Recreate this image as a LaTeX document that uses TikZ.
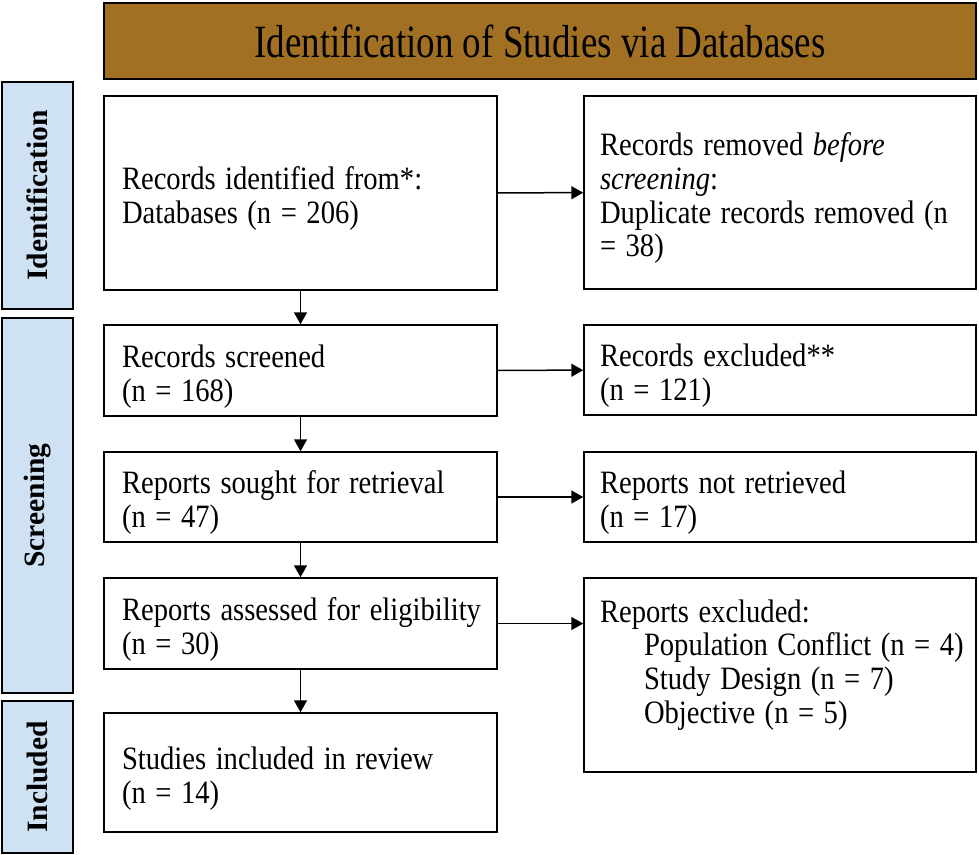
\documentclass[tikz,border=0pt]{standalone}
\usepackage{fontspec}
\usepackage{graphicx}
\setmainfont{Liberation Serif}
\usetikzlibrary{arrows.meta,positioning}
\definecolor{headbrown}{RGB}{161,112,35}
\definecolor{phaseblue}{RGB}{207,226,243}
% text of the boxes, a little taller than wide, sitting a bit low
\newcommand{\tallrows}[1]{\raisebox{0pt}[\dimexpr\height+14pt\relax]{\scalebox{1}[1.14]{\begin{tabular}[c]{@{}l@{}}#1\end{tabular}}}}
\begin{document}
\begin{tikzpicture}[x=1pt, y=-1pt, line width=1.5pt,
  every node/.style={font=\fontsize{28.6}{29.6}\selectfont},
  box/.style={draw, align=left, text width=357pt, inner xsep=18pt, inner ysep=0pt},
  rbox/.style={draw, align=left, text width=360pt, inner xsep=16pt, inner ysep=0pt},
  phase/.style={draw, fill=phaseblue, rotate=90, minimum height=71pt, inner sep=0pt,
    font=\fontsize{29.5}{34}\selectfont\bfseries},
  >={Triangle[length=12pt,width=13pt]}]
  \useasboundingbox (0,0) rectangle (979,854);

  % header
  \node[draw, fill=headbrown, minimum width=872pt, minimum height=76pt, inner sep=0pt,
    font=\fontsize{37}{40}\selectfont] (head) at (540,41)
    {\scalebox{1}[1.25]{Identification of Studies via Databases}};

  % phases
  \node[phase, minimum width=227pt] (ident) at (37.5,195.5) {Identification};
  \node[phase, minimum width=375pt] (screen) at (37.5,505.5) {Screening};
  \node[phase, minimum width=152pt] (incl) at (37.5,777) {Included};

  % left column
  \node[box, minimum height=194pt] (found) at (300.5,193) {\tallrows{Records identified from*:\\Databases (n = 206)}};
  \node[box, minimum height=91pt] (screened) at (300.5,370.5) {\tallrows{Records screened\\(n = 168)}};
  \node[box, minimum height=90pt] (sought) at (300.5,497) {\tallrows{Reports sought for retrieval\\(n = 47)}};
  \node[box, minimum height=91pt] (assessed) at (300.5,623.5) {\tallrows{Reports assessed for eligibility\\(n = 30)}};
  \node[box, minimum height=119pt] (included) at (300.5,772.5) {\tallrows{Studies included in review\\(n = 14)}};

  % right column
  \node[rbox, minimum height=193pt] (removed) at (780,192.5)
    {\tallrows{Records removed \textit{before}\\\textit{screening}:\\Duplicate records removed (n\\= 38)}};
  \node[rbox, minimum height=90pt] (excluded) at (780,370) {\tallrows{Records excluded**\\(n = 121)}};
  \node[rbox, minimum height=90pt] (notret) at (780,497) {\tallrows{Reports not retrieved\\(n = 17)}};
  \node[rbox, minimum height=194pt] (repexcl) at (780,675)
    {\tallrows{Reports excluded:\\\hspace*{44pt}Population Conflict (n = 4)\\\hspace*{44pt}Study Design (n = 7)\\\hspace*{44pt}Objective (n = 5)\\[28pt]}};

  % arrows down
  \draw[->] (found) -- (screened);
  \draw[->] (screened) -- (sought);
  \draw[->] (sought) -- (assessed);
  \draw[->] (assessed) -- (included);

  % arrows across
  \draw[->] (found) -- (removed);
  \draw[->] (screened) -- (excluded);
  \draw[->] (sought) -- (notret);
  \draw[->] (assessed.east) -- (assessed.east -| repexcl.west);
\end{tikzpicture}
\end{document}
